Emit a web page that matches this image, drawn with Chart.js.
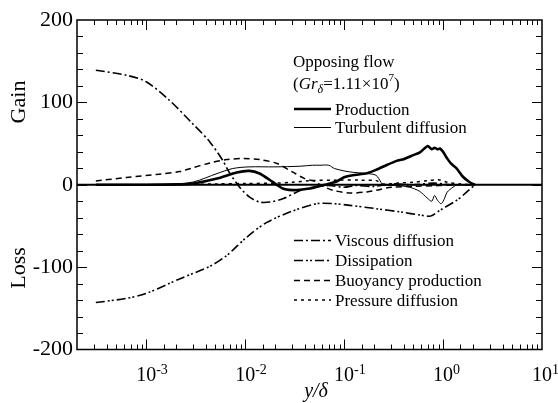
<!DOCTYPE html>
<html>
<head>
<meta charset="utf-8">
<script src="https://cdn.jsdelivr.net/npm/chart.js@4.4.0/dist/chart.umd.min.js"></script>
<style>
  html, body { margin: 0; padding: 0; background: #fff; }
  #wrap { width: 558px; height: 403px; position: relative; }
</style>
</head>
<body>
<div id="wrap"><canvas id="budget"></canvas></div>
<script>
// ── Values: y/δ against gain (+) / loss (-) ── //
const productionX = [3.1e-4, 1e-3, 2.2e-3, 3e-3, 5.2e-3, 8.2e-3, 0.011, 0.014, 0.019, 0.024, 0.03, 0.036, 0.048, 0.064, 0.084, 0.1, 0.122, 0.17, 0.21, 0.27, 0.34, 0.4, 0.5, 0.58, 0.7, 0.77, 0.82, 0.88, 0.93, 1.0, 1.1, 1.2, 1.37, 1.58, 1.86, 2.1];
const productionY = [0, 0, 0.5, 1.5, 7.5, 14.8, 16.8, 13.6, 3.4, -4.6, -6.5, -6, -4, 0, 4, 9, 11.5, 14, 18, 24, 29, 31, 36, 39, 47, 43, 45, 43, 44, 40, 32, 26, 20, 10, 3, 0];

const turbulentX = [3.1e-4, 1e-3, 1.7e-3, 3e-3, 5.2e-3, 7.5e-3, 0.011, 0.02, 0.036, 0.048, 0.057, 0.07, 0.08, 0.114, 0.17, 0.21, 0.235, 0.245, 0.35, 0.46, 0.58, 0.69, 0.77, 0.82, 0.88, 0.96, 1.04, 1.1, 1.26, 1.4, 2.1];
const turbulentY = [0, 0, 0.5, 3.4, 13.6, 19.7, 21.7, 21.7, 22.5, 23.7, 23.7, 23.7, 19.7, 15.6, 13.6, 11.5, 3.4, 0, -1, -3, -8, -16, -20, -13, -19, -23, -16, -9, -3, 0, 0];

const viscousX = [3.1e-4, 6.3e-4, 1e-3, 1.7e-3, 2.9e-3, 4.4e-3, 5.9e-3, 7e-3, 8.8e-3, 0.0111, 0.014, 0.0177, 0.024, 0.036, 0.048, 0.07, 0.1, 0.13, 0.2, 0.3, 0.5, 0.8, 1.2, 2.1];
const viscousY = [139, 133, 125, 103, 75, 52, 30, 14, -3, -15, -21, -21, -17, -7, -3, -1, -3, -1, -2, 1, 0, 2, 0, 0];

const dissipationX = [3.1e-4, 6.3e-4, 1e-3, 1.7e-3, 2.2e-3, 4.4e-3, 6.5e-3, 0.0103, 0.0164, 0.03, 0.053, 0.08, 0.114, 0.21, 0.37, 0.6, 0.75, 0.93, 1.37, 1.73, 2.1];
const dissipationY = [-143, -138, -132, -120, -114, -99, -86, -64, -46, -32, -23, -23, -25, -29, -33, -37, -38, -31, -19, -9, 0];

const buoyancyX = [3.1e-4, 6.3e-4, 1.36e-3, 2.2e-3, 2.8e-3, 4.4e-3, 6.5e-3, 9.7e-3, 0.014, 0.021, 0.03, 0.04, 0.053, 0.057, 0.077, 0.114, 0.17, 0.21, 0.3, 0.5, 0.9, 1.4, 2.1];
const buoyancyY = [4.6, 8.8, 12.8, 16, 19.7, 26.5, 30.6, 31.8, 30.6, 25.8, 15.6, 7.5, 3.4, 0, -6.7, -10, -8.7, -6.7, -3, -2, -1, 0, 0];

const pressureX = [3.1e-4, 2e-3, 5e-3, 0.01, 0.02, 0.03, 0.045, 0.08, 0.15, 0.21, 0.25, 0.35, 0.5, 0.7, 0.9, 1.1, 1.5, 2.1];
const pressureY = [0, 0, 1, 1.5, 2, 3, 5, 5.6, 5.6, 5, 1, 2, 3, 5, 6, 3, 1, 0];

const xDecades = [1e-3, 1e-2, 1e-1, 1, 10];
const xExponents = ['-3', '-2', '-1', '0', '1'];
const yLabelValues = [200, 100, 0, -100, -200];

const SERIF = '"Liberation Serif", "Times New Roman", serif';

function pts(xs, ys) {
  return xs.map((x, i) => ({ x, y: ys[i] }));
}

function isDecade(v) {
  const l = Math.log10(v);
  return Math.abs(l - Math.round(l)) < 1e-6;
}

// Frame, inward ticks, zero line, decade labels, axis titles and the in-plot legend
const framePlugin = {
  id: 'frame',
  beforeDatasetsDraw(chart) {
    const { ctx, chartArea: { left, right }, scales: { y } } = chart;
    const y0 = y.getPixelForValue(0);
    ctx.save();
    ctx.strokeStyle = '#000';
    ctx.lineWidth = 2;
    ctx.beginPath();
    ctx.moveTo(left, y0);
    ctx.lineTo(right, y0);
    ctx.stroke();
    ctx.restore();
  },
  afterDraw(chart) {
    const { ctx, chartArea: { left, right, top, bottom }, scales: { x, y } } = chart;
    ctx.save();
    ctx.strokeStyle = '#000';
    ctx.fillStyle = '#000';
    ctx.lineWidth = 1.5;
    ctx.strokeRect(left, top, right - left, bottom - top);

    ctx.lineWidth = 1;
    ctx.beginPath();
    x.ticks.forEach(t => {
      const px = Math.round(x.getPixelForValue(t.value)) + 0.5;
      if (px <= left + 1 || px >= right - 1) return;
      const len = isDecade(t.value) ? 10 : 5;
      ctx.moveTo(px, bottom); ctx.lineTo(px, bottom - len);
      ctx.moveTo(px, top); ctx.lineTo(px, top + len);
    });
    y.ticks.forEach(t => {
      const py = Math.round(y.getPixelForValue(t.value)) + 0.5;
      if (py <= top + 1 || py >= bottom - 1) return;
      const len = t.value % 100 === 0 ? 10 : 6;
      ctx.moveTo(left, py); ctx.lineTo(left + len, py);
      ctx.moveTo(right, py); ctx.lineTo(right - len, py);
    });
    ctx.stroke();

    // decade labels 10^n, "10" centred on the tick
    ctx.textBaseline = 'alphabetic';
    ctx.textAlign = 'left';
    xDecades.forEach((d, i) => {
      const px = x.getPixelForValue(d);
      ctx.font = `20px ${SERIF}`;
      const w = ctx.measureText('10').width;
      ctx.fillText('10', px - w / 2, bottom + 31);
      ctx.font = `14px ${SERIF}`;
      ctx.fillText(xExponents[i], px + w / 2, bottom + 24);
    });

    ctx.font = `italic 20px ${SERIF}`;
    ctx.textAlign = 'center';
    ctx.fillText('y/δ', 316, bottom + 47);

    ctx.font = `22px ${SERIF}`;
    [['Gain', 102], ['Loss', 268]].forEach(([txt, cy]) => {
      ctx.save();
      ctx.translate(25, cy);
      ctx.rotate(-Math.PI / 2);
      ctx.textAlign = 'center';
      ctx.fillText(txt, 0, 0);
      ctx.restore();
    });

    // legend
    ctx.textAlign = 'left';
    ctx.font = `17px ${SERIF}`;
    ctx.fillText('Opposing flow', 293, 67);
    let cx = 293;
    const piece = (txt, font, dy) => {
      ctx.font = font;
      ctx.fillText(txt, cx, 89 + dy);
      cx += ctx.measureText(txt).width;
    };
    piece('(', `17px ${SERIF}`, 0);
    piece('Gr', `italic 17px ${SERIF}`, 0);
    piece('δ', `italic 12px ${SERIF}`, 4);
    piece('=1.11×10', `17px ${SERIF}`, 0);
    piece('7', `11px ${SERIF}`, -8);
    piece(')', `17px ${SERIF}`, 0);

    const ds = chart.data.datasets;
    const rows = [
      [ds[0], 109], [ds[1], 127.5],
      [ds[2], 240.5], [ds[3], 260.5], [ds[4], 280.5], [ds[5], 300],
    ];
    ctx.font = `17px ${SERIF}`;
    rows.forEach(([d, ly]) => {
      ctx.save();
      ctx.lineWidth = d.borderWidth;
      ctx.setLineDash(d.borderDash || []);
      ctx.beginPath();
      ctx.moveTo(294, ly);
      ctx.lineTo(331, ly);
      ctx.stroke();
      ctx.restore();
      ctx.fillText(d.label, 335, ly + 5.5);
    });
    ctx.restore();
  },
};

const lineBase = {
  borderColor: '#000',
  backgroundColor: '#000',
  pointRadius: 0,
  fill: false,
  tension: 0.3,
};

new Chart(document.getElementById('budget').getContext('2d'), {
  type: 'line',
  plugins: [framePlugin],
  data: {
    datasets: [
      { ...lineBase, label: 'Production',          data: pts(productionX, productionY),   borderWidth: 2.6, tension: 0.2 },
      { ...lineBase, label: 'Turbulent diffusion', data: pts(turbulentX, turbulentY),     borderWidth: 1 },
      { ...lineBase, label: 'Viscous diffusion',   data: pts(viscousX, viscousY),         borderWidth: 1.6, borderDash: [9, 3, 2, 3] },
      { ...lineBase, label: 'Dissipation',         data: pts(dissipationX, dissipationY), borderWidth: 1.6, borderDash: [9, 3, 2, 2, 2, 3] },
      { ...lineBase, label: 'Buoyancy production', data: pts(buoyancyX, buoyancyY),       borderWidth: 1.5, borderDash: [6, 4] },
      { ...lineBase, label: 'Pressure diffusion',  data: pts(pressureX, pressureY),       borderWidth: 1.5, borderDash: [3, 4] },
    ],
  },
  options: {
    responsive: true,
    maintainAspectRatio: false,
    animation: false,
    devicePixelRatio: 1,
    layout: { padding: { left: 0, right: 16, top: 20, bottom: 0 } },
    plugins: {
      legend: { display: false },
      tooltip: { enabled: false },
    },
    scales: {
      x: {
        type: 'logarithmic',
        min: 2e-4,
        max: 10,
        grid: { display: false, drawTicks: false },
        border: { display: false },
        ticks: { display: false, autoSkip: false },
        afterFit(s) { s.height = 53.5; },
      },
      y: {
        min: -200,
        max: 200,
        grid: { display: false, drawTicks: false },
        border: { display: false },
        ticks: {
          stepSize: 20,
          autoSkip: false,
          padding: 4,
          color: '#000',
          font: { family: SERIF, size: 22 },
          callback: v => (yLabelValues.includes(v) ? String(v) : ''),
        },
        afterFit(s) { s.width = 77; },
      },
    },
  },
});
</script>
</body>
</html>
